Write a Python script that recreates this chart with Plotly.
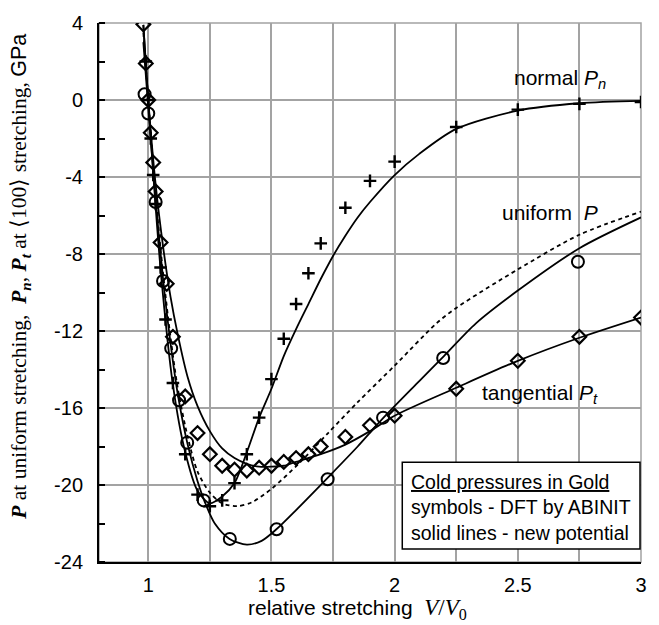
import plotly.graph_objects as go

# ---------------- data ----------------
# DFT points, normal pressure P_n (plus symbols)
x_plus = [0.99, 1.00, 1.01, 1.02, 1.03, 1.05, 1.07, 1.10, 1.15, 1.20, 1.25, 1.30, 1.35,
          1.40, 1.45, 1.50, 1.55, 1.60, 1.65, 1.70, 1.80, 1.90, 2.00, 2.25, 2.50, 2.75, 3.00]
y_plus = [2.0, 0.0, -2.0, -3.9, -5.4, -8.7, -11.4, -14.7, -18.4, -20.5, -21.1, -20.8, -19.9,
          -18.4, -16.5, -14.5, -12.4, -10.6, -9.0, -7.45, -5.6, -4.2, -3.2, -1.4, -0.5, -0.2, -0.1]

# DFT points, uniform pressure P (circles)
x_circ = [0.985, 1.00, 1.03, 1.06, 1.093, 1.125, 1.158, 1.225, 1.331, 1.521, 1.728, 1.953, 2.197, 2.744]
y_circ = [0.3, -0.7, -5.3, -9.4, -12.9, -15.6, -17.8, -20.8, -22.8, -22.3, -19.7, -16.5, -13.4, -8.4]

# DFT points, tangential pressure P_t (diamonds)
x_diam = [0.98, 0.99, 1.00, 1.01, 1.02, 1.03, 1.05, 1.075, 1.10, 1.15, 1.20, 1.25, 1.30, 1.35,
          1.40, 1.45, 1.50, 1.55, 1.60, 1.65, 1.70, 1.80, 1.90, 2.00, 2.25, 2.50, 2.75, 3.00]
y_diam = [3.93, 1.9, 0.0, -1.7, -3.25, -4.75, -7.4, -9.55, -12.3, -15.4, -17.3, -18.4, -19.0, -19.2,
          -19.25, -19.1, -19.0, -18.8, -18.6, -18.4, -18.0, -17.5, -16.9, -16.4, -15.0, -13.55, -12.3, -11.3]

# new potential, normal P_n (solid)
x_norm_line = [0.98, 0.99, 1.00, 1.02, 1.05, 1.10, 1.15, 1.20, 1.25, 1.30, 1.35, 1.40, 1.45, 1.50,
               1.55, 1.60, 1.65, 1.70, 1.75, 1.80, 1.85, 1.90, 2.00, 2.10, 2.25, 2.50, 2.75, 3.00]
y_norm_line = [3.9, 1.9, 0.0, -3.8, -8.8, -14.8, -18.3, -20.3, -20.95, -20.6, -19.9, -18.3, -16.5, -15.0,
               -13.3, -11.9, -10.6, -9.3, -8.1, -7.05, -6.1, -5.3, -3.9, -2.8, -1.5, -0.55, -0.17, -0.05]

# new potential, uniform P (solid)
x_unif_line = [0.98, 1.00, 1.03, 1.06, 1.09, 1.12, 1.16, 1.20, 1.23, 1.27, 1.33, 1.40, 1.46, 1.52,
               1.60, 1.73, 1.85, 1.955, 2.10, 2.20, 2.33, 2.50, 2.75, 3.00]
y_unif_line = [3.0, -0.4, -5.2, -9.3, -12.6, -15.3, -17.9, -19.8, -20.9, -22.0, -22.8, -23.1, -22.9, -22.3,
               -21.3, -19.6, -18.0, -16.5, -14.6, -13.3, -11.6, -9.9, -7.7, -6.1]

# uniform P, dashed curve
x_dash_line = [0.98, 1.00, 1.03, 1.06, 1.09, 1.12, 1.16, 1.20, 1.25, 1.30, 1.36, 1.42, 1.50, 1.61,
               1.73, 1.85, 2.00, 2.17, 2.25, 2.50, 2.75, 3.00]
y_dash_line = [3.5, 0.0, -5.0, -9.0, -12.3, -15.0, -17.5, -19.3, -20.4, -20.95, -21.1, -20.9, -20.2, -18.9,
               -17.3, -15.7, -13.8, -11.6, -10.8, -8.8, -7.0, -5.8]

# new potential, tangential P_t (solid)
x_tang_line = [0.98, 1.00, 1.03, 1.06, 1.09, 1.12, 1.16, 1.20, 1.25, 1.30, 1.35, 1.40, 1.45, 1.50,
               1.55, 1.60, 1.70, 1.80, 1.90, 2.00, 2.25, 2.50, 2.75, 3.00]
y_tang_line = [3.9, 0.0, -4.4, -7.6, -10.2, -12.2, -14.4, -15.9, -17.2, -18.1, -18.6, -18.9, -19.05, -19.05,
               -19.0, -18.8, -18.4, -17.9, -17.2, -16.4, -14.95, -13.55, -12.35, -11.3]

x_tickvals = [1, 1.5, 2, 2.5, 3]
x_ticktext = ["1", "1.5", "2", "2.5", "3"]
y_tickvals = [-24, -20, -16, -12, -8, -4, 0, 4]
y_ticktext = ["-24", "-20", "-16", "-12", "-8", "-4", "0", "4"]

# ---------------- figure ----------------
SANS = "Liberation Sans, Arial, sans-serif"
SERIF = "Liberation Serif, Times New Roman, serif"
LW = 1.8

fig = go.Figure()

line_sets = [
    (x_dash_line, y_dash_line, "4px,3.5px"),
    (x_unif_line, y_unif_line, "solid"),
    (x_tang_line, y_tang_line, "solid"),
    (x_norm_line, y_norm_line, "solid"),
]
for xs, ys, dash in line_sets:
    fig.add_trace(go.Scatter(x=xs, y=ys, mode="lines",
                             line=dict(color="black", width=LW, dash=dash, shape="spline", smoothing=0.8),
                             hoverinfo="skip", showlegend=False))

fig.add_trace(go.Scatter(x=x_diam, y=y_diam, mode="markers",
                         marker=dict(symbol="diamond-open", size=10.5, color="black",
                                     line=dict(width=2.2, color="black")),
                         showlegend=False))
fig.add_trace(go.Scatter(x=x_circ, y=y_circ, mode="markers",
                         marker=dict(symbol="circle-open", size=12, color="black",
                                     line=dict(width=2.0, color="black")),
                         showlegend=False))
fig.add_trace(go.Scatter(x=x_plus, y=y_plus, mode="markers",
                         marker=dict(symbol="cross-thin", size=9, color="black",
                                     line=dict(width=2.4, color="black")),
                         showlegend=False))

GRID = "#a3a3a3"
fig.update_xaxes(range=[0.8, 3.0], tickvals=x_tickvals, ticktext=x_ticktext,
                 showgrid=True, gridcolor=GRID, gridwidth=1.5,
                 minor=dict(dtick=0.25, tick0=1, showgrid=True, gridcolor=GRID, gridwidth=1.5, ticks=""),
                 showline=True, linecolor="black", linewidth=2,
                 ticks="", ticklabelstandoff=4, zeroline=False,
                 tickfont=dict(family=SANS, size=20, color="black"))
fig.update_yaxes(range=[-24, 4], tickvals=y_tickvals, ticktext=y_ticktext,
                 showgrid=True, gridcolor=GRID, gridwidth=1.5,
                 showline=True, linecolor="black", linewidth=2,
                 ticks="", ticklabelstandoff=10, zeroline=False,
                 minor=dict(dtick=2, tick0=0, ticks="inside", ticklen=6, tickwidth=1.5,
                            tickcolor="black", showgrid=False),
                 tickfont=dict(family=SANS, size=20, color="black"))

# gray frame (top/right)
fig.add_shape(type="rect", xref="paper", yref="paper", x0=0, y0=0, x1=1, y1=1,
              line=dict(color=GRID, width=1.5), layer="below")

# info box
fig.add_shape(type="rect", xref="x", yref="y", x0=2.031, x1=2.996, y0=-23.33, y1=-18.82,
              line=dict(color="black", width=1.5), fillcolor="white", layer="above")

annotations = [
    dict(x=2.868, y=1.1, text="normal <i>P</i><sub><i>n</i></sub>", xanchor="right", yanchor="middle",
         font=dict(family=SANS, size=21, color="black")),
    dict(x=2.835, y=-5.85, text="uniform  <i>P</i>", xanchor="right", yanchor="middle",
         font=dict(family=SANS, size=21, color="black")),
    dict(x=2.345, y=-15.25, text="tangential <i>P</i><sub><i>t</i></sub>", xanchor="left", yanchor="middle",
         font=dict(family=SANS, size=21, color="black")),
    dict(x=2.058, y=-21.15, text="<u>Cold pressures in Gold</u><br>symbols - DFT by ABINIT<br>solid lines - new potential",
         xanchor="left", yanchor="middle", align="left",
         font=dict(family=SANS, size=19.5, color="black")),
]
for a in annotations:
    a.update(xref="x", yref="y", showarrow=False)
    fig.add_annotation(**a)

# axis titles
fig.add_annotation(xref="paper", yref="paper", x=0.477, y=-0.088, showarrow=False,
                   xanchor="center", yanchor="middle",
                   text='relative stretching  <span style="font-family:Liberation Serif;font-size:23px">'
                        '<i>V</i>/<i>V</i><sub>0</sub></span>',
                   font=dict(family=SANS, size=21, color="black"))
fig.add_annotation(xref="paper", yref="paper", x=-0.145, y=0.53, showarrow=False,
                   xanchor="center", yanchor="middle", textangle=-90,
                   text='<b><i>P</i></b> at uniform stretching,  <b><i>P</i></b><b><i><sub>n</sub></i></b>, '
                        '<b><i>P</i></b><b><i><sub>t</sub></i></b> at \u27e8100\u27e9 stretching, '
                        '<span style="font-family:Liberation Sans">GPa</span>',
                   font=dict(family=SERIF, size=21.5, color="black"))

fig.update_layout(width=659, height=625,
                  margin=dict(l=99, r=13, t=16, b=63),
                  paper_bgcolor="white", plot_bgcolor="white",
                  showlegend=False)

fig.write_html("out.html")
